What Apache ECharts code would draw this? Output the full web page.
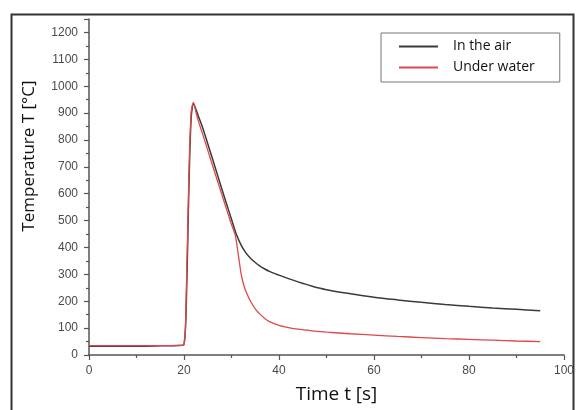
<!DOCTYPE html>
<html>
<head>
<meta charset="utf-8">
<script src="https://cdn.jsdelivr.net/npm/echarts@6/dist/echarts.min.js"></script>
<style>
  html, body { margin: 0; padding: 0; background: #fff; }
  #chart { width: 577px; height: 410px; }
</style>
</head>
<body>
<div id="chart"></div>
<script>
// time samples [s]
const timeAir = [0, 5, 10, 15, 19, 20, 20.5, 21, 21.5, 22, 22.5, 23, 24, 25, 26, 27, 28, 29, 30, 31, 32, 33, 34, 35, 36, 37, 38, 40, 42, 44, 47, 50, 55, 60, 65, 70, 75, 80, 85, 90, 95]
const tempAir = [33, 33, 33, 34, 35, 40, 200, 600, 880, 935, 915, 890, 842, 786, 730, 673, 616, 560, 505, 450, 410, 381, 360, 344, 331, 320, 311, 297, 284, 272, 256, 243, 228, 215, 205, 196, 188, 181, 175, 170, 165]

const timeWater = [0, 5, 10, 15, 19, 20, 20.5, 21, 21.5, 22, 22.5, 23, 24, 25, 26, 27, 28, 29, 30, 30.8, 31.5, 32, 32.5, 33, 34, 35, 36, 37, 38, 40, 42, 44, 47, 50, 55, 60, 65, 70, 75, 80, 85, 90, 95]
const tempWater = [35, 35, 35, 35, 36, 38, 250, 650, 900, 940, 905, 872, 818, 762, 706, 650, 595, 540, 485, 445, 365, 305, 265, 238, 200, 172, 152, 136, 124, 110, 102, 96, 90, 85, 79, 74, 69, 65, 61, 58, 55, 52, 50]

const seriesNames = ['In the air', 'Under water']

const pairs = (xs, ys) => xs.map((x, i) => [x, ys[i]])

const chart = echarts.init(document.getElementById('chart'), null, { renderer: 'canvas' })

const axisColor = '#555'
const tickFont = { color: '#4a4a4a', fontSize: 12, fontFamily: 'Liberation Sans', formatter: v => String(v) }

chart.setOption({
  animation: false,
  backgroundColor: '#fff',
  grid: { left: 89, right: 8, top: 19, bottom: 55, containLabel: false },
  graphic: [
    {
      type: 'rect',
      left: 9, top: 12,
      shape: { width: 562, height: 420 },
      style: { fill: 'none', stroke: '#333', lineWidth: 2 },
      silent: true
    }
  ],
  legend: {
    data: seriesNames,
    orient: 'vertical',
    left: 381,
    top: 33,
    padding: [5, 25, 6, 18],
    borderColor: '#777',
    borderWidth: 1,
    borderRadius: 0,
    itemGap: 4,
    itemWidth: 39,
    itemHeight: 2,
    icon: 'rect',
    textStyle: { fontSize: 14, lineHeight: 17, color: '#111', fontFamily: 'Open Sans', padding: [0, 0, 0, 10] }
  },
  xAxis: {
    type: 'value',
    min: 0, max: 100, interval: 20,
    name: 'Time t [s]',
    nameLocation: 'middle',
    nameGap: 30,
    nameTextStyle: { fontSize: 19, color: '#111', fontFamily: 'Open Sans', padding: [0, 0, 0, 20] },
    axisLine: { lineStyle: { color: axisColor, width: 1.5 } },
    axisTick: { show: true, length: 5, inside: false, lineStyle: { color: axisColor, width: 1.2 } },
    minorTick: { show: true, splitNumber: 2, length: 3, lineStyle: { color: axisColor, width: 1.2 } },
    axisLabel: { ...tickFont, margin: 10 },
    splitLine: { show: false }
  },
  yAxis: {
    type: 'value',
    min: 0, max: 1250, interval: 100,
    name: 'Temperature T [°C]',
    nameLocation: 'middle',
    nameGap: 51,
    nameRotate: 90,
    nameTextStyle: { fontSize: 17, color: '#111', fontFamily: 'Open Sans', padding: [0, 0, 0, 62] },
    axisLine: { show: true, lineStyle: { color: axisColor, width: 1.5 } },
    axisTick: { show: true, length: 5, inside: false, lineStyle: { color: axisColor, width: 1.2 } },
    minorTick: { show: true, splitNumber: 2, length: 3, lineStyle: { color: axisColor, width: 1.2 } },
    axisLabel: { ...tickFont, margin: 11, showMaxLabel: false },
    splitLine: { show: false }
  },
  series: [
    {
      name: seriesNames[0],
      type: 'line',
      data: pairs(timeAir, tempAir),
      showSymbol: false,
      symbol: 'none',
      smooth: 0.3,
      color: '#3a3a3a',
      lineStyle: { width: 1.5, color: '#3a3a3a' },
      z: 2
    },
    {
      name: seriesNames[1],
      type: 'line',
      data: pairs(timeWater, tempWater),
      showSymbol: false,
      symbol: 'none',
      smooth: 0.3,
      color: '#e0474c',
      lineStyle: { width: 1.3, color: '#e0474c' },
      z: 3
    }
  ]
})
</script>
</body>
</html>
